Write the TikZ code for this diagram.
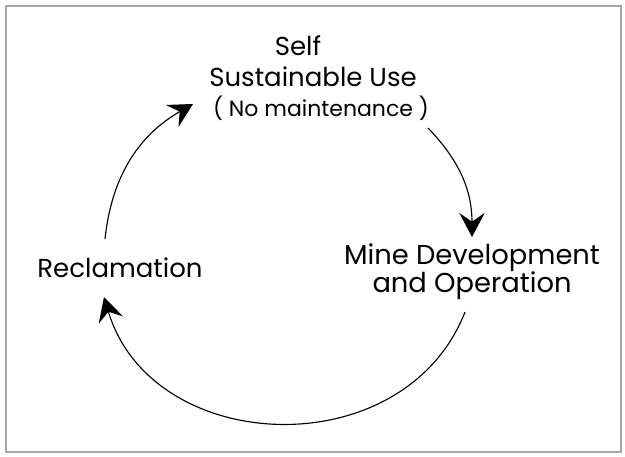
\documentclass[tikz,border=0pt]{standalone}
\usepackage{fontspec}
\setmainfont{Poppins}
\usetikzlibrary{arrows.meta}
\tikzset{
  lbl/.style={font=\fontsize{19.5}{21}\selectfont, inner sep=0pt},
  cyc/.style={-{Stealth[length=18pt,width=19pt,inset=6.5pt]}, line width=0.85pt},
}
\begin{document}
\begin{tikzpicture}[x=0.75pt,y=0.75pt]
\useasboundingbox (0,0) rectangle (625,457);
\draw[gray!70, line width=1.2pt] (6,5) rectangle (621,451);

\node[lbl] (lblSelf) at (298,411) {Self};
\node[lbl] (lblUse) at (313,380) {Sustainable Use};
\node[lbl, font=\fontsize{16.5}{18}\selectfont] (lblMaint) at (321,349) {( No maintenance )};

\node[lbl, align=center, font=\fontsize{20.5}{21}\selectfont] (lblMine) at (472,185) {Mine Development\\and Operation};
\node[lbl] (lblRecl) at (120,189) {Reclamation};

% ends of the cycle arcs
\coordinate (useOut) at (428,329);
\coordinate (mineIn) at (472,220);
\coordinate (mineOut) at (465,145);
\coordinate (reclIn) at (104,160);
\coordinate (reclOut) at (105,218);
\coordinate (useIn) at (193,353);

\draw[cyc] (useOut) to[bend left=22] (mineIn);
\draw[cyc] (mineOut) to[bend left=71, looseness=1.18] (reclIn);
\draw[cyc] (reclOut) to[bend left=27] (useIn);

\end{tikzpicture}
\end{document}
